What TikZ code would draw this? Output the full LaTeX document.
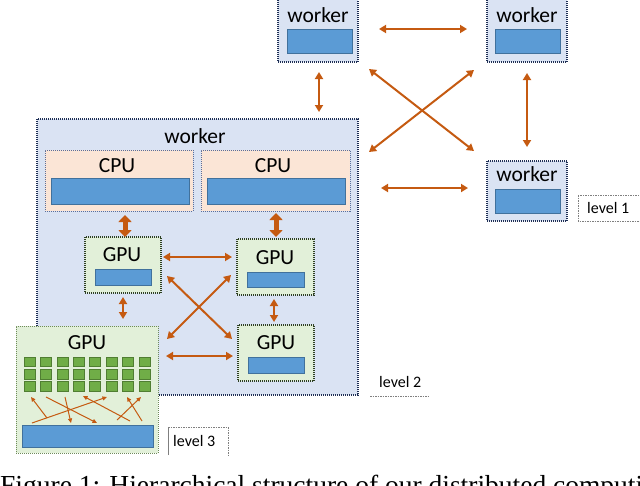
\documentclass[tikz,border=0pt]{standalone}
\usepackage{fontspec}
\setmainfont{Carlito}
\newfontfamily\capfont{Liberation Serif}
\usetikzlibrary{arrows.meta,calc}
\definecolor{arrc}{HTML}{C55A11}
\definecolor{wfill}{HTML}{DAE3F3}
\definecolor{wline}{HTML}{1F2F55}
\definecolor{cfill}{HTML}{FBE5D6}
\definecolor{cline}{HTML}{5A6E9A}
\definecolor{gfill}{HTML}{E2F0D9}
\definecolor{gline}{HTML}{2E3F22}
\definecolor{g4line}{HTML}{6E8A5A}
\definecolor{barfill}{HTML}{5B9BD5}
\definecolor{barline}{HTML}{41719C}
\definecolor{sqfill}{HTML}{70AD47}
\definecolor{sqline}{HTML}{507E32}
\definecolor{lvlline}{HTML}{7F7F7F}
\begin{document}
\begin{tikzpicture}[x=1pt,y=-1pt,
 box/.style={draw, inner sep=0pt, outer sep=0pt, dash pattern=on 1pt off 1pt},
 wbox/.style={box, fill=wfill, draw=wline, line width=1.2pt},
 cbox/.style={box, fill=cfill, draw=cline, line width=0.9pt},
 gbox/.style={box, fill=gfill, draw=gline, line width=1.3pt},
 g4box/.style={box, fill=gfill, draw=g4line, line width=1pt},
 bar/.style={draw=barline, fill=barfill, line width=0.8pt, inner sep=0pt, outer sep=0pt, solid},
 sq/.style={draw=sqline, fill=sqfill, line width=0.6pt, minimum width=11pt, minimum height=9.5pt, inner sep=0pt},
 lbl/.style={font=\fontsize{21.5}{24}\selectfont, inner sep=0pt},
 lvl/.style={font=\fontsize{16}{18}\selectfont, inner sep=0pt, anchor=west},
 lvlbox/.style={draw=lvlline, line width=0.7pt, dash pattern=on 1.5pt off 1pt},
 arr/.style={draw=arrc, line width=2pt, {Triangle[length=7pt,width=8pt]}-{Triangle[length=7pt,width=8pt]}},
 fat/.style={draw=arrc, line width=5pt, {Triangle[length=7pt,width=13pt]}-{Triangle[length=7pt,width=13pt]}},
 tarr/.style={draw=arrc, line width=1pt, -{Triangle[length=4.5pt,width=4pt]}},
]
\useasboundingbox (0,0) rectangle (640,485);
\clip (0,0) rectangle (640,485);

% level 1 workers
\node[wbox, minimum width=80pt, minimum height=66pt] (wA) at (318,29) {};
\node[lbl] (wAt) at (318,15) {worker};
\node[bar, minimum width=65pt, minimum height=24pt] (wAb) at (319.5,41) {};

\node[wbox, minimum width=80pt, minimum height=66pt] (wB) at (527,29) {};
\node[lbl] (wBt) at (527,15) {worker};
\node[bar, minimum width=65pt, minimum height=24pt] (wBb) at (527.5,41) {};

\node[wbox, minimum width=80pt, minimum height=60pt] (wC) at (527,191) {};
\node[lbl] (wCt) at (527,174) {worker};
\node[bar, minimum width=65pt, minimum height=24pt] (wCb) at (527.5,201) {};

% main worker
\node[wbox, minimum width=321pt, minimum height=276pt] (wM) at (197.5,257) {};
\node[lbl] (wMt) at (195,136) {worker};

\node[cbox, minimum width=148pt, minimum height=61pt] (cpuL) at (119,180.5) {};
\node[lbl] (cpuLt) at (117,166) {CPU};
\node[bar, minimum width=138pt, minimum height=26pt] (cpuLb) at (120,191) {};

\node[cbox, minimum width=149pt, minimum height=61pt] (cpuR) at (275.5,180.5) {};
\node[lbl] (cpuRt) at (273,166) {CPU};
\node[bar, minimum width=138pt, minimum height=26pt] (cpuRb) at (276,191) {};

\node[gbox, minimum width=76pt, minimum height=56pt] (g1) at (123,265) {};
\node[lbl] (g1t) at (122,255) {GPU};
\node[bar, minimum width=56pt, minimum height=16pt] (g1b) at (123,277) {};

\node[gbox, minimum width=77pt, minimum height=56pt] (g2) at (275.5,267) {};
\node[lbl] (g2t) at (275,258) {GPU};
\node[bar, minimum width=57pt, minimum height=15pt] (g2b) at (275.5,279.5) {};

\node[gbox, minimum width=76pt, minimum height=56pt] (g3) at (276,353) {};
\node[lbl] (g3t) at (276,343) {GPU};
\node[bar, minimum width=56pt, minimum height=16pt] (g3b) at (276,365) {};

% level 3 GPU
\node[g4box, minimum width=142pt, minimum height=127pt] (g4) at (87,389.5) {};
\node[lbl] (g4t) at (87,343) {GPU};
\foreach \i in {0,...,7} {
  \foreach \j in {0,1,2} {
    \node[sq] (sq\i\j) at ({29.5+16.4*\i},{362+12.2*\j}) {};
  }
}
\node[bar, minimum width=131pt, minimum height=22pt] (g4b) at (87.5,436) {};
\begin{scope}[shift={(g4.north west)}]
  \draw[tarr] (30,71) -- (81,97);
  \draw[tarr] (49,71) -- (55,97);
  \draw[tarr] (16,97) -- (91,71);
  \draw[tarr] (114,95) -- (67,70);
  \draw[tarr] (31,92) -- (15,71);
  \draw[tarr] (101,94) -- (125,71);
  \draw[tarr] (126,95) -- (111,71);
\end{scope}

% level labels
\draw[lvlbox] (578,195) rectangle (650,221);
\node[lvl] (l1) at (587,208) {level 1};
\node[lvl] (l2) at (379,382) {level 2};
\draw[lvlbox] (370,396) -- (430,396);
\draw[draw=lvlline, line width=0.7pt] (168,455) -- (168,427);
\draw[lvlbox] (168,427) -- (228,427) -- (228,455);
\node[lvl] (l3) at (173,441) {level 3};

% level 1 arrows
\draw[arr] ($(wA.east)+(21,0)$) -- ($(wB.west)+(-20,0)$);
\draw[arr] ($(wA.south)+(1,10)$) -- ($(wA.south |- wM.north)+(1,-7)$);
\draw[arr] ($(wB.south)+(0,11)$) -- ($(wC.north)+(0,-14)$);
\draw[arr] ($(wA.south east)+(11,7)$) -- ($(wC.north west)+(-13,-10)$);
\draw[arr] ($(wB.south west)+(-13,8)$) -- ($(wM.north east)+(11,33)$);
\draw[arr] ($(wM.east |- wC.west)+(23,-3)$) -- ($(wC.west)+(-19,-3)$);

% level 2 arrows
\draw[fat] ($(cpuL.south)+(6,4)$) -- ($(cpuL.south |- g1.north)+(6,0)$);
\draw[fat] ($(cpuR.south)+(0.5,2)$) -- ($(cpuR.south |- g2.north)+(0.5,-2)$);
\draw[arr] ($(g1.east)+(2,-8)$) -- ($(g2.west |- g1.east)+(-5,-8)$);
\draw[arr] ($(g1.south east)+(6,-17)$) -- ($(g3.north west)+(-6,14)$);
\draw[arr] ($(g2.south west)+(-6,-20)$) -- ($(g4.north east)+(9,13)$);
\draw[arr] ($(g4.east |- g3.west)+(8,3)$) -- ($(g3.west)+(-5,3)$);
\draw[arr] ($(g2.south)+(-1.5,4)$) -- ($(g3.north)+(-2,-3)$);
\draw[arr] ($(g1.south)+(0,4)$) -- ($(g1.south |- g4.north)+(0,-7)$);

% caption (cut off by the picture edge, as in the reference)
\node[font=\capfont\fontsize{27.5}{30}\selectfont, anchor=base west, inner sep=0pt] (cap) at (0,494) {Figure 1: Hierarchical structure of our distributed computing};
\end{tikzpicture}
\end{document}
